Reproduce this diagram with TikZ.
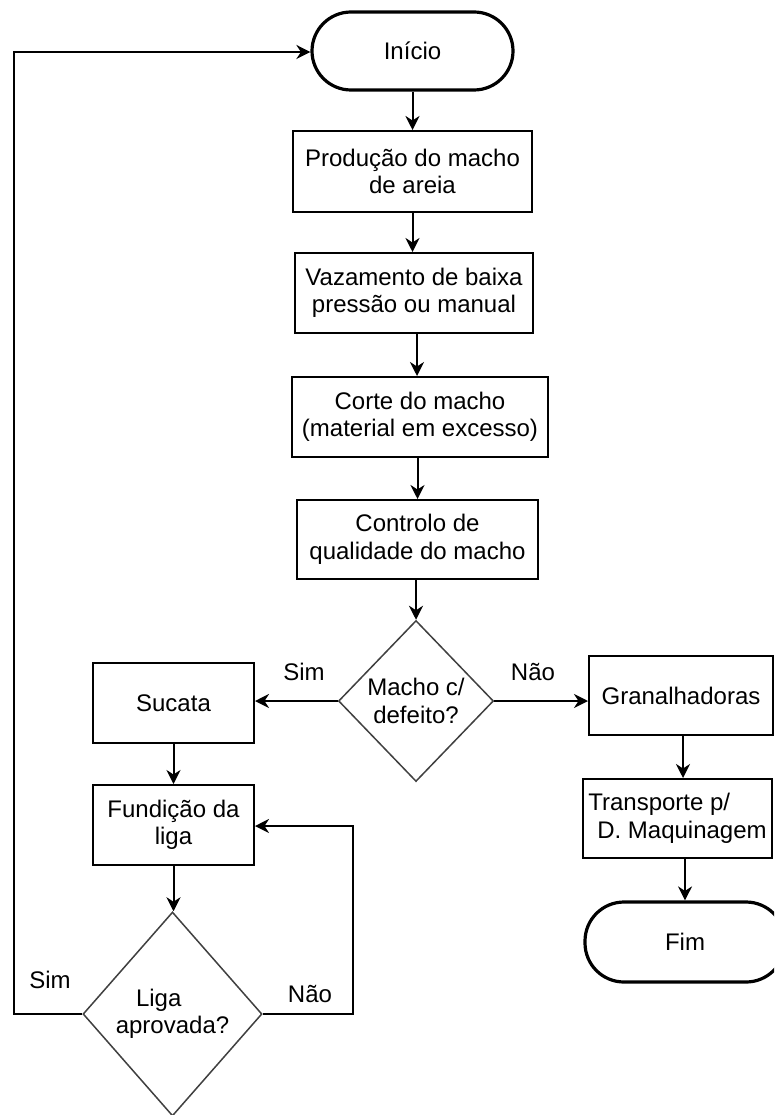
\documentclass[tikz,border=0pt]{standalone}
\usepackage{fontspec}
\setmainfont{Liberation Sans}
\usetikzlibrary{arrows.meta,shapes.geometric}
\tikzset{
  txt/.style={font=\fontsize{24}{27.5}\selectfont, text=black},
  procbox/.style={txt, draw=black, line width=2pt, fill=white, inner sep=0pt, align=center},
  termbox/.style={txt, draw=black, line width=3.2pt, fill=white, inner sep=0pt, rounded corners=39pt, align=center},
  decbox/.style={txt, shape=diamond, draw=black!75, line width=1.5pt, fill=white, inner sep=0pt, align=center},
  lbl/.style={txt, anchor=base, inner sep=0pt},
  arr/.style={line width=2pt, draw=black, -{Stealth[length=14pt,width=14pt,inset=4.5pt]}},
}
\begin{document}
\begin{tikzpicture}[x=1pt,y=-1pt]
\useasboundingbox (0,0) rectangle (774,1115);
\fill[white] (0,0) rectangle (774,1115);
\clip (0,0) rectangle (774,1115);

% nodes
\node[termbox, minimum width=201pt, minimum height=78pt] (start) at (412.5,51) {Início};
\node[procbox, minimum width=239pt, minimum height=81pt] (b1) at (412.5,171.5) {Produção do macho\\de areia};
\node[procbox, minimum width=238pt, minimum height=80pt] (b2) at (414,293) {Vazamento de baixa\\pressão ou manual};
\node[procbox, minimum width=256pt, minimum height=80pt] (b3) at (420,417) {Corte do macho\\(material em excesso)};
\node[procbox, minimum width=241pt, minimum height=79pt] (b4) at (417.5,539.5) {Controlo de\\qualidade do macho};
\node[decbox, minimum width=155pt, minimum height=161pt] (d1) at (416,701) {Macho c/\\defeito?};
\node[procbox, minimum width=161pt, minimum height=80pt] (suc) at (173.5,703) {Sucata};
\node[procbox, minimum width=184pt, minimum height=79pt] (gran) at (681,695.5) {Granalhadoras};
\node[procbox, minimum width=161pt, minimum height=80pt] (fund) at (173.5,825) {Fundição da\\liga};
\node[procbox, minimum width=189pt, minimum height=79pt, align=left] (transp) at (677.5,818.5) {Transporte p/\\\hspace*{9pt}D. Maquinagem};
\node[termbox, minimum width=200pt, minimum height=80pt] (fim) at (685,942) {Fim};
\node[decbox, minimum width=179pt, minimum height=204pt] (d2) at (172.5,1014) {\makebox[73pt][l]{Liga}\\aprovada?};

% labels
\node[lbl] (l1) at (304,680) {Sim};
\node[lbl] (l2) at (533,680) {Não};
\node[lbl] (l3) at (50,988) {Sim};
\node[lbl] (l4) at (310,1002) {Não};

% coordinates for bends
\coordinate (nr) at (353,826);
\coordinate (yl) at (14,52);

% connectors
\draw[arr] (start.south) -- (start.south |- b1.north);
\draw[arr] (b1.south) -- (b1.south |- b2.north);
\draw[arr] (b2.south -| 417,0) -- (417,0 |- b3.north);
\draw[arr] (b3.south -| b4.north) -- (b4.north);
\draw[arr] (b4.south -| d1.north) -- (d1.north);
\draw[arr] (d1.west) -- (d1.west -| suc.east);
\draw[arr] (d1.east) -- (d1.east -| gran.west);
\draw[arr] (suc.south) -- (suc.south |- fund.north);
\draw[arr] (fund.south) -- (fund.south |- d2.north);
\draw[arr] (gran.south -| 683,0) -- (683,0 |- transp.north);
\draw[arr] (transp.south -| fim.north) -- (fim.north);
\draw[arr] (d2.east) -| (nr) -- (nr -| fund.east);
\draw[arr] (d2.west) -| (yl) -- (yl -| start.west);
\end{tikzpicture}
\end{document}
